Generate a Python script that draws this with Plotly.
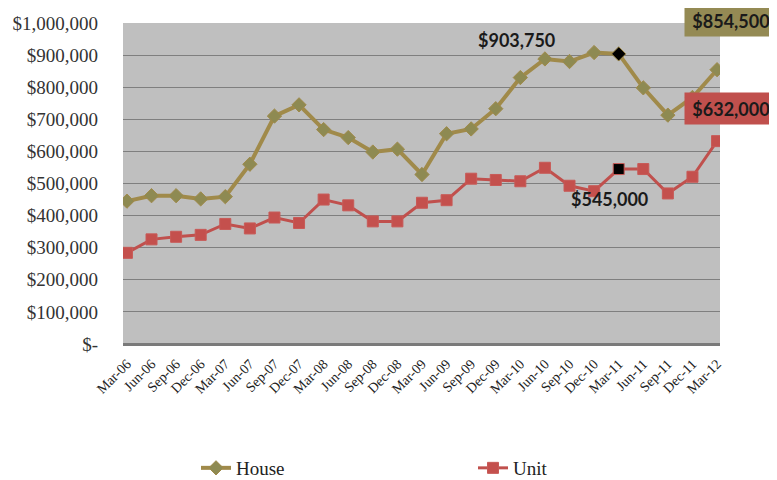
import plotly.graph_objects as go

categories = ["Mar-06", "Jun-06", "Sep-06", "Dec-06", "Mar-07", "Jun-07", "Sep-07", "Dec-07",
              "Mar-08", "Jun-08", "Sep-08", "Dec-08", "Mar-09", "Jun-09", "Sep-09", "Dec-09",
              "Mar-10", "Jun-10", "Sep-10", "Dec-10", "Mar-11", "Jun-11", "Sep-11", "Dec-11", "Mar-12"]
house = [445000, 462000, 462000, 452000, 459000, 560000, 710000, 745000,
         668000, 643000, 598000, 607000, 528000, 655000, 670000, 733000,
         830000, 888000, 880000, 908000, 903750, 798000, 713000, 768000, 854500]
unit = [284000, 326000, 334000, 340000, 374000, 360000, 394000, 377000,
        450000, 432000, 382000, 382000, 440000, 448000, 515000, 511000,
        507000, 549000, 493000, 476000, 545000, 545000, 469000, 521000, 632000]
y_tickvals = [0, 100000, 200000, 300000, 400000, 500000, 600000, 700000, 800000, 900000, 1000000]
y_ticktext = ["$-", "$100,000", "$200,000", "$300,000", "$400,000", "$500,000",
              "$600,000", "$700,000", "$800,000", "$900,000", "$1,000,000"]

HOUSE_LINE = "#A08A4A"
HOUSE_MARK = "#8E8A52"
UNIT_LINE = "#C0504D"
UNIT_MARK = "#C4504D"

hi = categories.index("Mar-11")
house_colors = [HOUSE_MARK] * len(categories)
house_colors[hi] = "#000000"
unit_colors = [UNIT_MARK] * len(categories)
unit_colors[hi] = "#000000"

fig = go.Figure()
fig.add_trace(go.Scatter(
    x=categories, y=house, name="House", mode="lines+markers",
    line=dict(color=HOUSE_LINE, width=4),
    marker=dict(symbol="diamond", size=11, color=house_colors,
                line=dict(width=1, color="#A08A4A")),
))
fig.add_trace(go.Scatter(
    x=categories, y=unit, name="Unit", mode="lines+markers",
    line=dict(color=UNIT_LINE, width=3),
    marker=dict(symbol="square", size=11, color=unit_colors,
                line=dict(width=1, color="#C85A57")),
))

ann_font = dict(family="Lato, 'Open Sans', sans-serif", size=18, color="#1a1a1a")
fig.add_annotation(x="Mar-11", y=house[hi], text="<b>$903,750</b>", showarrow=False,
                   xshift=-102, yshift=14, font=ann_font)
fig.add_annotation(x="Mar-11", y=unit[hi], text="<b>$545,000</b>", showarrow=False,
                   xshift=-9, yshift=-30, font=ann_font)
fig.add_annotation(x="Mar-12", y=house[-1], text="<b>$854,500</b>", showarrow=False,
                   xshift=14, yshift=49, font=ann_font, bgcolor="#948A54",
                   width=86, height=25, borderpad=3)
fig.add_annotation(x="Mar-12", y=unit[-1], text="<b>$632,000</b>", showarrow=False,
                   xshift=14, yshift=33, font=ann_font, bgcolor="#C0504D",
                   width=86, height=25, borderpad=3)

# page body has an 8px margin, so the figure is laid out 8px smaller and offset
serif = "'Liberation Serif', 'DejaVu Serif', serif"
fig.update_layout(
    width=769, height=472,
    margin=dict(l=115, r=57, t=15, b=136, autoexpand=False),
    paper_bgcolor="white", plot_bgcolor="#BFBFBF",
    font=dict(family=serif, color="#222222"),
    showlegend=True,
    xaxis=dict(
        type="category", range=[-0.16, 24.12], tickangle=-45, automargin=False,
        tickfont=dict(family=serif, size=14, color="#222222"),
        showgrid=False, showline=False, zeroline=False, ticks="",
        ticklabelstandoff=8,
    ),
    yaxis=dict(
        range=[0, 1000000], tickvals=y_tickvals, ticktext=y_ticktext, automargin=False,
        tickfont=dict(family=serif, size=19, color="#333333"),
        showgrid=True, gridcolor="#7F7F7F", gridwidth=1.3,
        zeroline=True, zerolinecolor="#7a7a7a", zerolinewidth=2.5,
        showline=False, ticks="", ticklabelstandoff=24,
    ),
    legend=dict(orientation="h", x=(196 - 123) / 597, y=(344 - 487) / 321,
                xanchor="left", yanchor="bottom", bgcolor="rgba(0,0,0,0)",
                entrywidth=232, entrywidthmode="pixels",
                font=dict(family=serif, size=19, color="#222222")),
)

fig.write_html("out.html")
